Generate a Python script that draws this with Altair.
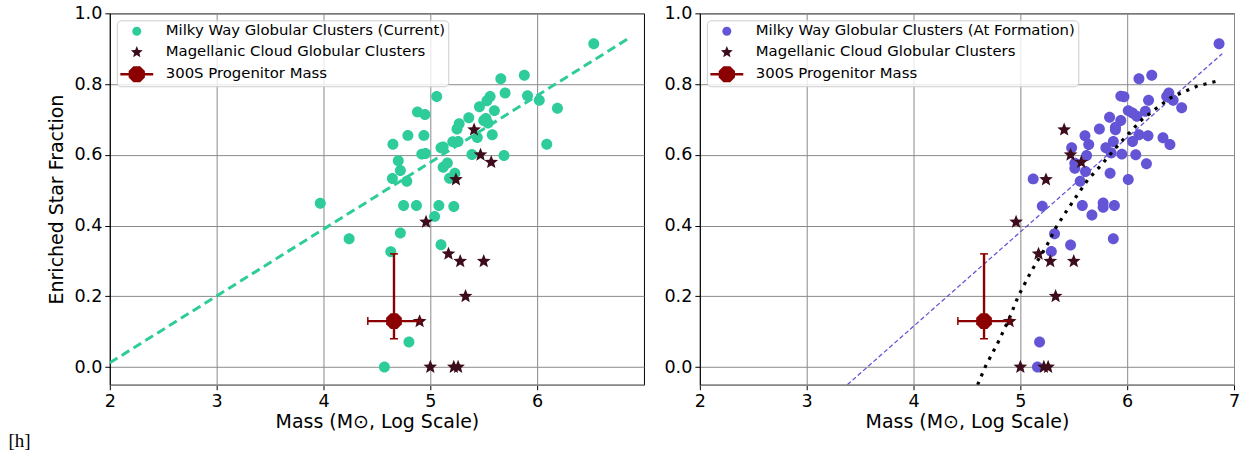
import math
import altair as alt
import pandas as pd

# ---------------- data ----------------
mw_current_mass = [6.53, 5.66, 5.88, 5.06, 5.70, 5.91, 6.02, 6.19, 5.56, 5.53, 5.46, 5.60,
                   4.88, 4.95, 5.36, 5.27, 5.25, 5.50, 5.54, 5.52, 5.44, 5.58, 6.09, 4.65,
                   4.79, 4.94, 5.10, 5.12, 5.21, 5.26, 4.92, 4.955, 5.39, 5.69, 4.70, 4.72,
                   4.645, 4.78, 5.12, 5.16, 5.18, 5.23, 3.97, 4.75, 4.87, 5.08, 5.22, 5.04,
                   4.72, 4.24, 5.10, 4.63, 4.80, 4.57]
mw_current_frac = [0.914, 0.815, 0.825, 0.765, 0.775, 0.767, 0.754, 0.732, 0.765, 0.753, 0.736, 0.725,
                   0.721, 0.714, 0.705, 0.688, 0.673, 0.697, 0.690, 0.703, 0.649, 0.657, 0.630, 0.630,
                   0.655, 0.655, 0.620, 0.622, 0.637, 0.638, 0.602, 0.604, 0.601, 0.598, 0.583, 0.556,
                   0.533, 0.525, 0.565, 0.577, 0.534, 0.548, 0.463, 0.457, 0.457, 0.457, 0.454, 0.426,
                   0.379, 0.363, 0.346, 0.326, 0.071, 0.0]

mw_formation_mass = [6.86, 6.11, 6.23, 5.94, 5.97, 6.39, 6.37, 6.43, 6.20, 6.51, 6.01, 6.05,
                     6.09, 6.17, 5.835, 5.94, 5.89, 5.89, 5.74, 5.605, 6.11, 6.195, 6.335, 6.40,
                     6.05, 5.64, 5.48, 5.80, 5.87, 5.85, 5.95, 5.62, 6.08, 5.51, 5.51, 5.61,
                     5.84, 6.18, 5.12, 6.01, 5.56, 5.205, 5.58, 5.775, 5.775, 5.88, 5.67, 5.32,
                     5.47, 5.87, 5.29, 5.18, 5.16]
mw_formation_frac = [0.914, 0.815, 0.825, 0.766, 0.764, 0.775, 0.765, 0.754, 0.754, 0.733, 0.725, 0.718,
                     0.709, 0.723, 0.706, 0.697, 0.678, 0.671, 0.673, 0.654, 0.657, 0.654, 0.648, 0.629,
                     0.638, 0.629, 0.620, 0.620, 0.638, 0.605, 0.602, 0.598, 0.600, 0.576, 0.562, 0.553,
                     0.548, 0.575, 0.532, 0.530, 0.525, 0.455, 0.457, 0.464, 0.452, 0.457, 0.430, 0.377,
                     0.345, 0.363, 0.327, 0.071, 0.0]

mc_mass = [5.41, 5.47, 5.57, 5.24, 4.96, 5.17, 5.28, 5.50, 5.33, 4.90, 5.00, 5.22, 5.26]
mc_frac = [0.671, 0.600, 0.579, 0.530, 0.410, 0.320, 0.299, 0.299, 0.200, 0.129, 0.0, 0.0, 0.0]

prog_mass = [4.66]
prog_frac = [0.13]
prog_mass_err = [0.245]
prog_frac_lo = [0.08]
prog_frac_hi = [0.32]

fit_current_mass = [2.0, 6.86]
fit_current_frac = [0.012, 0.930]
fit_formation_mass = [3.38, 6.89]
fit_formation_frac = [-0.05, 0.886]

model_mass = [4.60, 4.67, 4.80, 4.90, 4.98, 5.10, 5.25, 5.33, 5.43, 5.53, 5.63, 5.76,
              5.88, 6.00, 6.14, 6.27, 6.40, 6.50, 6.66, 6.85]
model_frac = [-0.05, 0.0, 0.075, 0.14, 0.20, 0.27, 0.345, 0.393, 0.44, 0.485, 0.529, 0.572,
              0.615, 0.656, 0.700, 0.731, 0.760, 0.774, 0.795, 0.809]

x_ticks_left = [2, 3, 4, 5, 6]
x_ticks_right = [2, 3, 4, 5, 6, 7]
y_ticks = [0.0, 0.2, 0.4, 0.6, 0.8, 1.0]

LBL_MW_CUR = "Milky Way Globular Clusters (Current)"
LBL_MW_FORM = "Milky Way Globular Clusters (At Formation)"
LBL_MC = "Magellanic Cloud Globular Clusters"
LBL_PROG = "300S Progenitor Mass"

GREEN = "#2ecc9a"
PURPLE = "#6455d6"
STAR = "#3d0d1b"
DARKRED = "#8b0000"
FONT = "DejaVu Sans"


# ---------------- marker shapes (unit coordinates) ----------------
def circle_path(r):
    return f"M{-r},0A{r},{r} 0 1,0 {r},0A{r},{r} 0 1,0 {-r},0Z"


def star_path(R, ratio=0.381966):
    pts = []
    for k in range(10):
        ang = math.radians(90 + 36 * k)
        rad = R if k % 2 == 0 else R * ratio
        pts.append(f"{rad * math.cos(ang):.4f},{-rad * math.sin(ang):.4f}")
    return "M" + "L".join(pts) + "Z"


def octagon_path(R):
    pts = []
    for k in range(8):
        ang = math.radians(22.5 + 45 * k)
        pts.append(f"{R * math.cos(ang):.4f},{R * math.sin(ang):.4f}")
    return "M" + "L".join(pts) + "Z"


CIRCLE = circle_path(0.5625)
STARP = star_path(0.78, 0.44)
PROG_LEG = "M-2.06,-0.16L2.06,-0.16L2.06,0.16L-2.06,0.16Z" + octagon_path(1.1)
OCT = octagon_path(1.0)

xscale = alt.Scale(domain=[2, 7], nice=False, zero=False)
yscale = alt.Scale(domain=[-0.05, 1.0], nice=False, zero=False)


def make_panel(mw_x, mw_y, mw_label, mw_color, fit_x, fit_y, fit_color, fit_width, fit_dash,
               x_ticks, y_title, curve=None):
    labels = [mw_label, LBL_MC, LBL_PROG]
    legend = alt.Legend(title=None, orient="top-left", direction="vertical", offset=7,
                        padding=3, symbolSize=256, symbolOffset=9, labelOffset=21,
                        rowPadding=6, labelFont=FONT, labelFontSize=14.9, labelColor="black",
                        labelLimit=500, fillColor="rgba(255,255,255,0.8)",
                        strokeColor="#cccccc", cornerRadius=4, symbolStrokeWidth=0)
    color = alt.Color("series:N", scale=alt.Scale(domain=labels, range=[mw_color, STAR, DARKRED]),
                      legend=legend)
    shape = alt.Shape("series:N", scale=alt.Scale(domain=labels, range=[CIRCLE, STARP, PROG_LEG]),
                      legend=legend)
    xaxis = alt.Axis(values=x_ticks, format="d", title="Mass (M\u2299, Log Scale)")
    if y_title:
        yaxis = alt.Axis(values=y_ticks, format=".1f", title=y_title)
    else:
        yaxis = alt.Axis(values=y_ticks, format=".1f", title=None)
    X = lambda f="mass": alt.X(f + ":Q", scale=xscale, axis=xaxis)
    Y = lambda f="frac": alt.Y(f + ":Q", scale=yscale, axis=yaxis)

    mw_df = pd.DataFrame({"mass": mw_x, "frac": mw_y, "series": mw_label})
    mc_df = pd.DataFrame({"mass": mc_mass, "frac": mc_frac, "series": LBL_MC})
    fit_df = pd.DataFrame({"mass": fit_x, "frac": fit_y})
    prog_df = pd.DataFrame({"mass": prog_mass, "frac": prog_frac,
                            "lo": [m - e for m, e in zip(prog_mass, prog_mass_err)],
                            "hi": [m + e for m, e in zip(prog_mass, prog_mass_err)],
                            "flo": prog_frac_lo, "fhi": prog_frac_hi,
                            "series": LBL_PROG})

    mw = alt.Chart(mw_df).mark_point(filled=True, size=382, opacity=1).encode(
        x=X(), y=Y(), color=color, shape=shape)
    mc = alt.Chart(mc_df).mark_point(filled=True, size=342, opacity=1).encode(
        x=X(), y=Y(), color=color, shape=shape)
    fit = alt.Chart(fit_df).mark_line(color=fit_color, strokeWidth=fit_width,
                                      strokeDash=fit_dash, clip=True).encode(x=X(), y=Y())
    layers = [mw, mc, fit]
    if curve is not None:
        cdf = pd.DataFrame({"mass": curve[0], "frac": curve[1], "order": list(range(len(curve[0])))})
        layers.append(alt.Chart(cdf).mark_line(color="black", strokeWidth=3.2, strokeDash=[3.2, 6],
                                               clip=True).encode(x=X(), y=Y(), order="order:Q"))
    pbase = alt.Chart(prog_df)
    hbar = pbase.mark_rule(color=DARKRED, strokeWidth=2.4).encode(
        x=X("lo"), x2="hi:Q", y=Y())
    vbar = pbase.mark_rule(color=DARKRED, strokeWidth=2.4).encode(
        x=X(), y=Y("flo"), y2="fhi:Q")
    capl = pbase.mark_tick(color=DARKRED, orient="vertical", size=8, thickness=1.5, opacity=1).encode(
        x=X("lo"), y=Y())
    capr = pbase.mark_tick(color=DARKRED, orient="vertical", size=8, thickness=1.5, opacity=1).encode(
        x=X("hi"), y=Y())
    capb = pbase.mark_tick(color=DARKRED, orient="horizontal", size=8, thickness=1.5, opacity=1).encode(
        x=X(), y=Y("flo"))
    capt = pbase.mark_tick(color=DARKRED, orient="horizontal", size=8, thickness=1.5, opacity=1).encode(
        x=X(), y=Y("fhi"))
    pt = pbase.mark_point(filled=True, size=289, opacity=1, shape=OCT, color=DARKRED).encode(
        x=X(), y=Y())
    layers += [hbar, vbar, capl, capr, capb, capt, pt]
    return alt.layer(*layers).properties(width=535, height=372)


left = make_panel(mw_current_mass, mw_current_frac, LBL_MW_CUR, GREEN,
                  fit_current_mass, fit_current_frac, GREEN, 3, [9, 5],
                  x_ticks_left, "Enriched Star Fraction")
right = make_panel(mw_formation_mass, mw_formation_frac, LBL_MW_FORM, PURPLE,
                   fit_formation_mass, fit_formation_frac, PURPLE, 1.3, [4.5, 2.5],
                   x_ticks_right, None, curve=(model_mass, model_frac))

chart = alt.hconcat(left, right, spacing=18).resolve_scale(
    color="independent", shape="independent"
).resolve_legend(color="independent", shape="independent").properties(
    title=alt.TitleParams("[h]", orient="bottom", anchor="start", font="Liberation Serif",
                          fontSize=19, fontWeight="normal", color="black", dx=-39, offset=0),
    padding={"left": 8, "top": 3, "right": 3, "bottom": 3},
).configure_axis(
    labelFont=FONT, titleFont=FONT, labelFontSize=17.6, titleFontSize=19,
    titleFontWeight="normal", labelColor="black", titleColor="black",
    tickColor="black", domainColor="black", tickSize=5, labelPadding=3,
    gridColor="#8a8a8a", gridWidth=1, gridOpacity=1,
).configure_axisX(titlePadding=2, domainColor="#888888", domainWidth=1.5, labelFlush=False
).configure_axisY(titlePadding=7, labelFlush=False
).configure_view(stroke="black", strokeWidth=1)

chart.save("out.html", embed_options={"renderer": "svg", "actions": False})
